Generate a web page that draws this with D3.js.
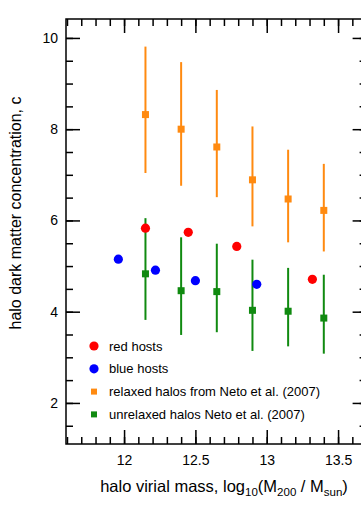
<!DOCTYPE html>
<html>
<head>
<meta charset="utf-8">
<script src="https://cdn.jsdelivr.net/npm/d3@7"></script>
<style>
  body { margin: 0; background: #fff; }
  svg { font-family: "Liberation Sans", Arial, sans-serif; }
</style>
</head>
<body>
<svg id="chart" width="361" height="507"></svg>
<script>
// halo masses of the Neto et al. (2007) bins
const netoMass = [12.15, 12.4, 12.65, 12.9, 13.15, 13.4];
// relaxed halos: concentration with lower / upper error
const relaxedC = [8.32, 8.0, 7.61, 6.89, 6.47, 6.22];
const relaxedLo = [7.04, 6.76, 6.51, 5.87, 5.52, 5.32];
const relaxedHi = [9.81, 9.47, 8.86, 8.06, 7.55, 7.24];
// unrelaxed halos
const unrelaxedC = [4.83, 4.46, 4.44, 4.03, 4.01, 3.86];
const unrelaxedLo = [3.82, 3.49, 3.55, 3.14, 3.24, 3.08];
const unrelaxedHi = [6.05, 5.63, 5.49, 5.14, 4.96, 4.81];

const redMass = [12.15, 12.45, 12.79, 13.32];
const redC = [5.83, 5.74, 5.43, 4.71];
const blueMass = [11.96, 12.22, 12.5, 12.93];
const blueC = [5.15, 4.91, 4.68, 4.6];

const xMajorTicks = [12, 12.5, 13, 13.5];
const yMajorTicks = [2, 4, 6, 8, 10];
const legendLabels = [
  "red hosts",
  "blue hosts",
  "relaxed halos from Neto et al. (2007)",
  "unrelaxed halos Neto et al. (2007)",
];

const colors = { red: "#ff0000", blue: "#0000ff", orange: "#ff8a10", green: "#108a10" };

const svg = d3.select("#chart");
const plotLeft = 66, plotRight = 366.6, plotTop = 19, plotBottom = 444;

const x = d3.scaleLinear().domain([11.593, 13.7]).range([plotLeft, plotRight]);
const y = d3.scaleLinear().domain([1.1, 10.415]).range([plotBottom, plotTop]);

// minor ticks: every 0.1 in mass, every 0.5 in concentration
const xMinorTicks = d3.range(116, 138).map((d) => d / 10);
const yMinorTicks = d3.range(3, 21).map((d) => d / 2);

/**
 * Draw an inward-pointing axis with major + minor ticks
 */
const drawAxis = (axisFn, scale, transform, majors, minors, showLabels) => {
  const gMinor = svg.append("g").attr("transform", transform)
    .call(axisFn(scale).tickValues(minors).tickSize(-7).tickFormat(""));
  const gMajor = svg.append("g").attr("transform", transform)
    .call(axisFn(scale).tickValues(majors).tickSize(-14)
      .tickPadding(showLabels ? 11 : 0)
      .tickFormat(showLabels ? d3.format("") : ""));
  [gMinor, gMajor].forEach((g) => {
    g.select(".domain").remove();
    g.selectAll("line").attr("stroke", "#000").attr("stroke-width", 1.5);
    g.selectAll("text").attr("font-size", 14).attr("fill", "#000")
      .attr("font-family", "Liberation Sans, Arial, sans-serif");
  });
  return gMajor;
};

drawAxis(d3.axisBottom, x, `translate(0,${plotBottom})`, xMajorTicks, xMinorTicks, true);
drawAxis(d3.axisTop, x, `translate(0,${plotTop})`, xMajorTicks, xMinorTicks, false);
const yAxis = drawAxis(d3.axisLeft, y, `translate(${plotLeft},0)`, yMajorTicks, yMinorTicks, true);
yAxis.selectAll("text").attr("x", -8);
drawAxis(d3.axisRight, y, `translate(${plotRight},0)`, yMajorTicks, yMinorTicks, false);

// frame
svg.append("rect")
  .attr("x", plotLeft).attr("y", plotTop)
  .attr("width", plotRight - plotLeft).attr("height", plotBottom - plotTop)
  .attr("fill", "none").attr("stroke", "#000").attr("stroke-width", 1.5);

// error bars + squares for the Neto et al. series
const drawNeto = (values, lo, hi, color) => {
  const g = svg.append("g");
  g.selectAll("line").data(netoMass).join("line")
    .attr("x1", (d) => x(d)).attr("x2", (d) => x(d))
    .attr("y1", (d, i) => y(lo[i])).attr("y2", (d, i) => y(hi[i]))
    .attr("stroke", color).attr("stroke-width", 2);
  g.selectAll("rect").data(netoMass).join("rect")
    .attr("x", (d) => x(d) - 3.5).attr("y", (d, i) => y(values[i]) - 3.5)
    .attr("width", 7).attr("height", 7).attr("fill", color);
};
drawNeto(relaxedC, relaxedLo, relaxedHi, colors.orange);
drawNeto(unrelaxedC, unrelaxedLo, unrelaxedHi, colors.green);

const drawDots = (mass, c, color) => {
  svg.append("g").selectAll("circle").data(mass).join("circle")
    .attr("cx", (d) => x(d)).attr("cy", (d, i) => y(c[i]))
    .attr("r", 4.6).attr("fill", color);
};
drawDots(redMass, redC, colors.red);
drawDots(blueMass, blueC, colors.blue);

// legend
const legend = svg.append("g").attr("transform", "translate(94,346)");
const legendColors = [colors.red, colors.blue, colors.orange, colors.green];
legendLabels.forEach((label, i) => {
  const row = legend.append("g").attr("transform", `translate(0,${i * 22.8})`);
  if (i < 2) {
    row.append("circle").attr("r", 4.6).attr("fill", legendColors[i]);
  } else {
    row.append("rect").attr("x", -3).attr("y", -3).attr("width", 6).attr("height", 6)
      .attr("fill", legendColors[i]);
  }
  row.append("text").attr("x", 15).attr("dy", "0.35em")
    .attr("font-size", 13).text(label);
});

// axis titles
const xTitle = svg.append("text")
  .attr("x", 224).attr("y", 492)
  .attr("text-anchor", "middle").attr("font-size", 16.5);
xTitle.append("tspan").text("halo virial mass, log");
xTitle.append("tspan").attr("font-size", 11.5).attr("dy", 4).text("10");
xTitle.append("tspan").attr("dy", -4).text("(M");
xTitle.append("tspan").attr("font-size", 11.5).attr("dy", 4).text("200");
xTitle.append("tspan").attr("dy", -4).text(" / M");
xTitle.append("tspan").attr("font-size", 11.5).attr("dy", 4).text("sun");
xTitle.append("tspan").attr("dy", -4).text(")");

svg.append("text")
  .attr("transform", "translate(21,213) rotate(-90)")
  .attr("text-anchor", "middle").attr("font-size", 16)
  .text("halo dark matter concentration, c");
</script>
</body>
</html>
